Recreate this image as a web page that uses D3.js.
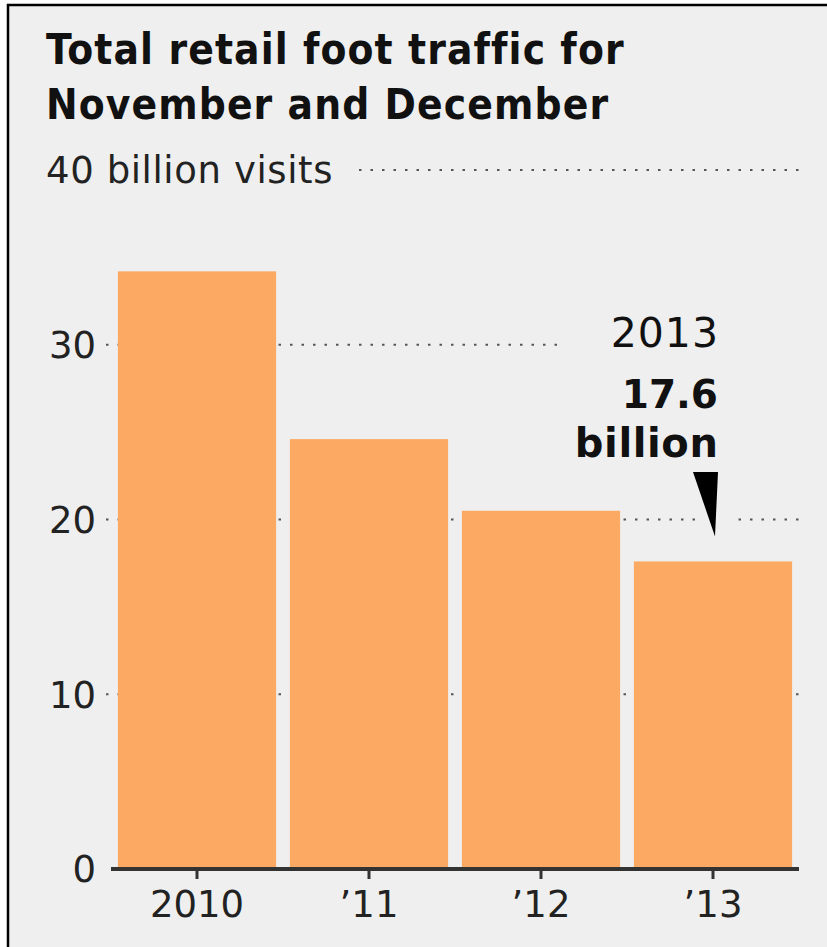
<!DOCTYPE html>
<html lang="en">
<head>
  <meta charset="UTF-8">
  <title>Retail foot traffic</title>
  <script src="https://cdn.jsdelivr.net/npm/d3@7"></script>
  <style>
    html, body { margin: 0; padding: 0; background: #fff; }
    svg { display: block; }
  </style>
</head>
<body>
  <div id="chart"></div>

  <script>
    // data
    const years = ['2010', '2011', '2012', '2013'];
    const yearLabels = ['2010', '\u201911', '\u201912', '\u201913'];
    const visits = [34.2, 24.6, 20.5, 17.6];   // billion visits
    const yTicks = [0, 10, 20, 30, 40];

    const width = 827,
      height = 947;

    const bg = '#efefef',
      barColor = '#fba963';

    const svg = d3.select('#chart')
      .append('svg')
        .attr('width', width)
        .attr('height', height);

    // panel with a frame on top and left
    svg.append('rect')
      .attr('x', 8).attr('y', 5)
      .attr('width', width - 8).attr('height', height - 5)
      .attr('fill', bg);
    svg.append('path')
      .attr('d', `M8,${height}V5H${width}`)
      .attr('fill', 'none')
      .attr('stroke', '#000')
      .attr('stroke-width', 2.5);

    const x = d3.scaleBand()
      .domain(years)
      .range([111, 799])
      .paddingInner(0.08)
      .paddingOuter(0.04);

    const y = d3.scaleLinear()
      .domain([0, 40])
      .range([869, 170]);

    // dotted grid lines, drawn behind the bars
    svg.append('g')
      .selectAll('line')
      .data(yTicks.filter(d => d > 0))
      .join('line')
        .attr('x1', 106)
        .attr('x2', 800)
        .attr('y1', d => y(d))
        .attr('y2', d => y(d))
        .attr('stroke', '#555')
        .attr('stroke-width', 2.2)
        .attr('stroke-dasharray', '2.5,9');

    // y labels
    svg.append('g')
      .selectAll('text')
      .data(yTicks.filter(d => d < 40))
      .join('text')
        .attr('x', 96)
        .attr('y', d => y(d))
        .attr('dy', '0.36em')
        .attr('text-anchor', 'end')
        .attr('font-family', 'DejaVu Sans, sans-serif')
        .attr('font-size', 37)
        .attr('fill', '#222')
        .text(d => d);

    // top label hides the start of the 40 line
    svg.append('rect')
      .attr('x', 40).attr('y', 145)
      .attr('width', 316).attr('height', 50)
      .attr('fill', bg);
    svg.append('text')
      .attr('x', 46)
      .attr('y', y(40))
      .attr('dy', '0.36em')
      .attr('font-family', 'DejaVu Sans, sans-serif')
      .attr('font-size', 37)
      .attr('letter-spacing', 0.6)
      .attr('fill', '#222')
      .text('40 billion visits');

    // bars
    svg.append('g')
      .selectAll('rect')
      .data(visits)
      .join('rect')
        .attr('x', (d, i) => x(years[i]))
        .attr('y', d => y(d))
        .attr('width', x.bandwidth())
        .attr('height', d => y(0) - y(d))
        .attr('fill', barColor);

    // x axis
    const xAxis = svg.append('g')
      .attr('transform', `translate(0,${y(0)})`)
      .call(d3.axisBottom(x)
        .tickSize(10)
        .tickFormat((d, i) => yearLabels[i]));
    xAxis.select('.domain')
      .attr('d', `M${x.range()[0]},0H${x.range()[1]}`)
      .attr('stroke', '#333')
      .attr('stroke-width', 4);
    xAxis.selectAll('.tick line')
      .attr('stroke', '#333')
      .attr('stroke-width', 3);
    xAxis.selectAll('.tick text')
      .attr('y', 22)
      .attr('font-family', 'DejaVu Sans, sans-serif')
      .attr('font-size', 37)
      .attr('fill', '#222');

    // annotation for the last bar
    const last = years.length - 1;
    const annX = 718;
    svg.append('rect')
      .attr('x', 562).attr('y', y(32))
      .attr('width', 240).attr('height', y(27) - y(32))
      .attr('fill', bg);
    svg.append('rect')
      .attr('x', 698).attr('y', y(21.5))
      .attr('width', 38).attr('height', y(19) - y(21.5))
      .attr('fill', bg);

    const ann = svg.append('g')
      .attr('text-anchor', 'end')
      .attr('font-family', 'DejaVu Sans, sans-serif')
      .attr('fill', '#111');
    ann.append('text')
      .attr('x', annX + 1).attr('y', 347)
      .attr('font-size', 41)
      .attr('letter-spacing', 1)
      .text(years[last]);
    ann.append('text')
      .attr('x', annX).attr('y', 408)
      .attr('font-size', 39)
      .attr('font-weight', 'bold')
      .text(visits[last]);
    ann.append('text')
      .attr('x', annX + 0.5).attr('y', 457)
      .attr('font-size', 40)
      .attr('letter-spacing', 0.6)
      .attr('font-weight', 'bold')
      .text('billion');

    ann.append('path')
      .attr('d', `M${annX - 25},472L${annX},472L${annX - 3},${y(visits[last]) - 25}Z`)
      .attr('fill', '#000');

    // title
    svg.append('g')
      .attr('font-family', 'DejaVu Sans Condensed, DejaVu Sans, sans-serif')
      .attr('font-weight', 'bold')
      .attr('font-size', 42)
      .attr('letter-spacing', 1.1)
      .attr('fill', '#111')
      .selectAll('text')
      .data(['Total retail foot traffic for', 'November and December'])
      .join('text')
        .attr('x', 46)
        .attr('y', (d, i) => 64 + i * 55)
        .text(d => d);
  </script>
</body>
</html>
